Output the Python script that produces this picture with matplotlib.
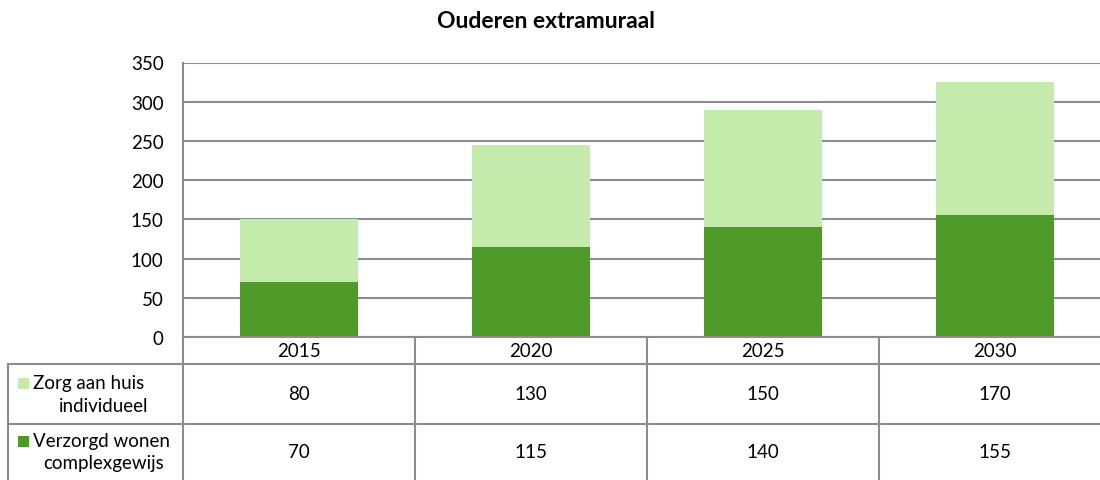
import matplotlib
matplotlib.use("Agg")
import matplotlib.pyplot as plt
from matplotlib.patches import Rectangle
from matplotlib.transforms import blended_transform_factory

categories = ["2015", "2020", "2025", "2030"]
series_names = ["Zorg aan huis\nindividueel", "Verzorgd wonen\ncomplexgewijs"]
zorg_aan_huis = [80, 130, 150, 170]
verzorgd_wonen = [70, 115, 140, 155]
yticks = [0, 50, 100, 150, 200, 250, 300, 350]

light = "#c4eaac"
dark = "#4e9a28"
grid = "#8c8c8c"

plt.rcParams['font.family'] = ['Lato', 'DejaVu Sans']

W, H = 1100, 481
fig = plt.figure(figsize=(W / 100, H / 100), dpi=100)

def fx(px):
    return px / W

def fy(py):
    return 1 - py / H

FS = 13.5

left_px, right_px, top_px, bottom_px = 183, 1111, 63.5, 338
ax = fig.add_axes([fx(left_px), fy(bottom_px), fx(right_px - left_px), fy(top_px) - fy(bottom_px)])

x = list(range(len(categories)))
ax.bar(x, verzorgd_wonen, width=0.51, color=dark, zorder=3)
ax.bar(x, zorg_aan_huis, width=0.51, bottom=verzorgd_wonen, color=light, zorder=3)

ax.set_xlim(-0.5, len(categories) - 0.5)
ax.set_ylim(0, 350)
ax.set_yticks(yticks)
ax.set_yticklabels([str(t) for t in yticks], fontsize=FS)
ax.tick_params(axis='y', length=0, pad=14)
ax.set_xticks([])
ax.yaxis.grid(True, color=grid, linewidth=1.5, zorder=0)
for s in ["top", "right", "bottom"]:
    ax.spines[s].set_visible(False)
ax.spines["left"].set_color(grid)
ax.spines["left"].set_linewidth(1.5)

fig.text(fx(546), fy(22), "Ouderen extramuraal", ha="center", va="center",
         fontsize=16.5, fontweight="bold")

# data table below the chart
tr = blended_transform_factory(ax.transData, fig.transFigure)
tf = fig.transFigure
lw = 1.5
row_y = [338, 365, 425, 481]
table_left = 8
fig.add_artist(plt.Line2D([fx(left_px), 1], [fy(row_y[0])] * 2, color=grid, lw=lw, transform=tf))
for yy in row_y[1:3]:
    fig.add_artist(plt.Line2D([fx(table_left), 1], [fy(yy)] * 2, color=grid, lw=lw, transform=tf))
fig.add_artist(plt.Line2D([fx(table_left)] * 2, [fy(row_y[1]), 0], color=grid, lw=lw, transform=tf))
fig.add_artist(plt.Line2D([fx(left_px)] * 2, [fy(row_y[0]), 0], color=grid, lw=lw, transform=tf))
for i in range(1, len(categories)):
    fig.add_artist(plt.Line2D([i - 0.5] * 2, [fy(row_y[0]), 0], color=grid, lw=lw, transform=tr))

for i, c in enumerate(categories):
    fig.text(i, fy((row_y[0] + row_y[1]) / 2), c, transform=tr, ha="center", va="center", fontsize=FS)

for r, (name, vals, col) in enumerate([(series_names[0], zorg_aan_huis, light),
                                        (series_names[1], verzorgd_wonen, dark)]):
    yc = (row_y[r + 1] + row_y[r + 2]) / 2
    for i, v in enumerate(vals):
        fig.text(i, fy(yc), str(v), transform=tr, ha="center", va="center", fontsize=FS)
    l1, l2 = name.split("\n")
    fig.add_artist(Rectangle((fx(18), fy(yc - 5)), fx(11), fy(0) - fy(11), transform=tf,
                             facecolor=col, edgecolor="none"))
    fig.text(fx(33), fy(yc - 11), l1, ha="left", va="center", fontsize=FS)
    fig.text(fx(104), fy(yc + 11), l2, ha="center", va="center", fontsize=FS)

fig.savefig("out.png", dpi=100)
